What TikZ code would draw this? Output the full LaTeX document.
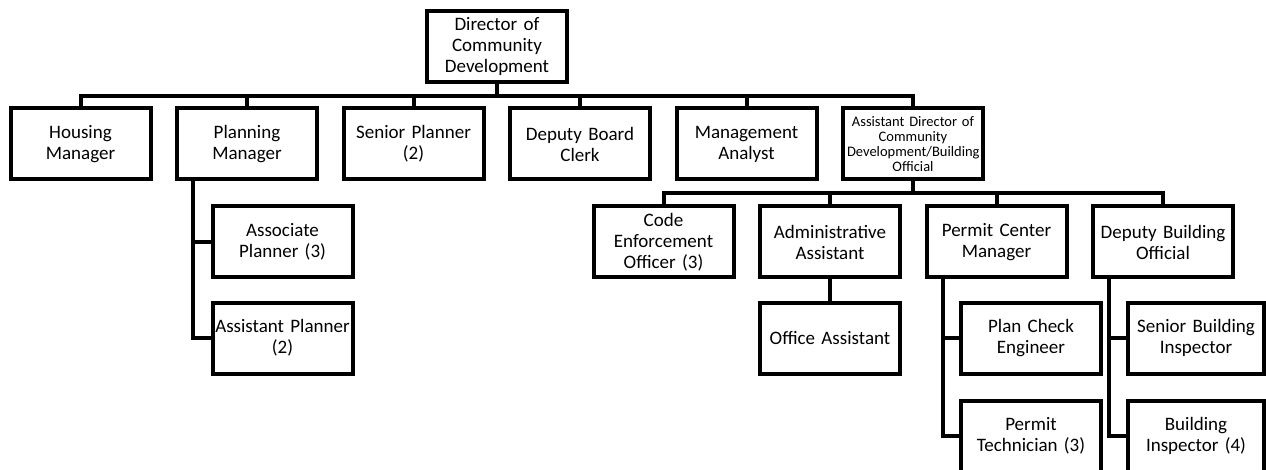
\documentclass[tikz,border=0pt]{standalone}
\usepackage{fontspec}
\setmainfont{Carlito}
\usetikzlibrary{positioning}

\begin{document}
\begin{tikzpicture}[x=1pt,y=1pt,node distance=166.5pt,on grid,
    job/.style={rectangle, draw, line width=4pt, minimum width=140pt, minimum height=71pt,
                inner sep=2pt, text width=132pt, align=center, font=\fontsize{19}{21}\selectfont},
    small/.style={font=\fontsize{14.5}{15}\selectfont},
    link/.style={line width=4pt}]
   \fill[white] (0,0) rectangle (1266,469);
   \clip (0,0) rectangle (1266,469);

   % top
   \node[job] (dir) at (497,422.5) {Director of\\Community\\Development};

   % first row
   \node[job] (house)  at (80.5,325)         {Housing\\Manager};
   \node[job] (plan)   [right=of house]      {Planning\\Manager};
   \node[job] (senior) [right=of plan]       {Senior Planner\\(2)};
   \node[job] (clerk)  [right=of senior]     {Deputy Board\\Clerk};
   \node[job] (mgmt)   [right=of clerk]      {Management\\Analyst};
   \node[job,small] (asstdir) [right=of mgmt] {Assistant Director of\\Community\\Development/Building\\Official};

   % planning
   \node[job] (assoc)  at (282.5,227)        {Associate\\Planner (3)};
   \node[job] (asstpl) [below=96pt of assoc] {\makebox[\linewidth]{Assistant Planner}\\(2)};

   % building
   \node[job] (code)   at (663.5,227)        {Code\\Enforcement\\Officer (3)};
   \node[job] (admin)  [right=of code]       {Administrative\\Assistant};
   \node[job] (permit) [right=of admin]      {Permit Center\\Manager};
   \node[job] (dbo)    [right=of permit]     {Deputy Building\\Official};
   \node[job] (office) [below=96pt of admin] {Office Assistant};

   \node[job] (check)  at (1031,131)         {Plan Check\\Engineer};
   \node[job] (tech)   [below=98pt of check] {Permit\\Technician (3)};
   \node[job,minimum width=136pt] (sbi) at (1196,131) {Senior Building\\Inspector};
   \node[job,minimum width=136pt] (bi)  [below=98pt of sbi] {Building\\Inspector (4)};

   % connectors
   \draw[link] (dir.south) -- ++(0,-12) coordinate (bus1);
   \foreach \n in {house,plan,senior,clerk,mgmt,asstdir}
      \draw[link] (bus1) -| (\n.north);

   \draw[link] (asstdir.south) -- ++(0,-11.5) coordinate (bus2);
   \foreach \n in {code,admin,permit,dbo}
      \draw[link] (bus2) -| (\n.north);

   \draw[link] (admin) -- (office);
   \foreach \a/\b in {plan/assoc,plan/asstpl,permit/check,permit/tech,dbo/sbi,dbo/bi}
      \draw[link] ([xshift=18pt]\a.south west) |- (\b.west);
\end{tikzpicture}
\end{document}
